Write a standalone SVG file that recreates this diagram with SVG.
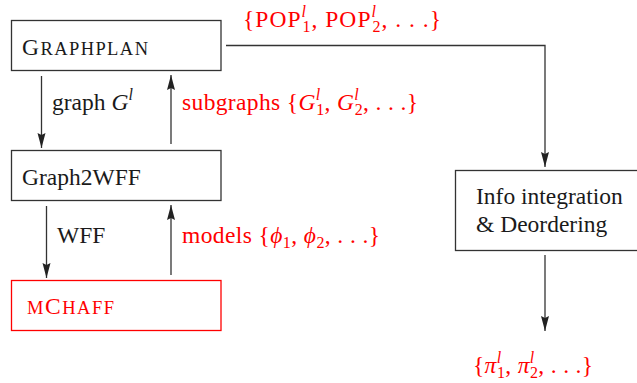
<svg xmlns="http://www.w3.org/2000/svg" width="637" height="383" viewBox="0 0 637 383">
  <style>
    text { font-family: "Liberation Serif", "Times New Roman", serif; font-size: 23.5px; fill: #1a1a1a; }
    .red { fill: #ff0000; }
    .it { font-style: italic; }
    .sc { font-size: 18.5px; }
    .scr { font-size: 16px; }
    .box { fill: #ffffff; stroke: #333333; stroke-width: 1.3; }
    .box.alert { stroke: #ff0000; }
    .wire { fill: none; stroke: #333333; stroke-width: 1.3; }
  </style>
  <defs>
    <marker id="head" markerUnits="userSpaceOnUse" markerWidth="16" markerHeight="10" refX="15" refY="4" orient="auto">
      <path d="M0,0 L15,4 L0,8 L2,4 z" fill="#222222"/>
    </marker>
  </defs>

  <!-- connectors and their labels -->
  <g id="connectors">
    <line class="wire" x1="41.5" y1="76" x2="41.5" y2="148" marker-end="url(#head)"/>
    <line class="wire" x1="171" y1="144" x2="171" y2="75" marker-end="url(#head)"/>
    <line class="wire" x1="46.5" y1="206" x2="46.5" y2="278" marker-end="url(#head)"/>
    <line class="wire" x1="171" y1="275" x2="171" y2="205" marker-end="url(#head)"/>
    <polyline class="wire" points="226,45.5 545,45.5 545,167" marker-end="url(#head)"/>
    <line class="wire" x1="545" y1="255" x2="545" y2="331" marker-end="url(#head)"/>

    <text x="52" y="110">graph <tspan class="it">G</tspan><tspan class="it scr" dy="-10">l</tspan></text>
    <text class="red" x="182" y="110" textLength="236" lengthAdjust="spacing">subgraphs {<tspan class="it">G</tspan><tspan class="it scr" dy="-10">l</tspan><tspan class="scr" dx="-4.5" dy="15">1</tspan><tspan dy="-5">, </tspan><tspan class="it">G</tspan><tspan class="it scr" dy="-10">l</tspan><tspan class="scr" dx="-4.5" dy="15">2</tspan><tspan dy="-5">, . . .}</tspan></text>
    <text x="57" y="243">WFF</text>
    <text class="red" x="182" y="243" textLength="198" lengthAdjust="spacing">models {<tspan class="it">ϕ</tspan><tspan class="scr" dy="5">1</tspan><tspan dy="-5">, </tspan><tspan class="it">ϕ</tspan><tspan class="scr" dy="5">2</tspan><tspan dy="-5">, . . .}</tspan></text>
    <text class="red" x="243" y="27" textLength="198" lengthAdjust="spacing">{POP<tspan class="it scr" dy="-10">l</tspan><tspan class="scr" dx="-4.5" dy="15">1</tspan><tspan dy="-5">, POP</tspan><tspan class="it scr" dy="-10">l</tspan><tspan class="scr" dx="-4.5" dy="15">2</tspan><tspan dy="-5">, . . .}</tspan></text>
    <text class="red" x="473" y="373" textLength="120" lengthAdjust="spacing">{<tspan class="it">π</tspan><tspan class="it scr" dy="-10">l</tspan><tspan class="scr" dx="-4.5" dy="15">1</tspan><tspan dy="-5">, </tspan><tspan class="it">π</tspan><tspan class="it scr" dy="-10">l</tspan><tspan class="scr" dx="-4.5" dy="15">2</tspan><tspan dy="-5">, . . .}</tspan></text>
  </g>

  <g id="graphplan">
    <rect class="box" x="11.5" y="20.5" width="209.5" height="50"/>
    <text x="22" y="55" textLength="126" lengthAdjust="spacing">G<tspan class="sc">RAPHPLAN</tspan></text>
  </g>

  <g id="graph2wff">
    <rect class="box" x="11.5" y="150.5" width="209.5" height="50"/>
    <text x="22" y="185">Graph2WFF</text>
  </g>

  <g id="mchaff">
    <rect class="box alert" x="11.5" y="280.5" width="209.5" height="50"/>
    <text class="red" x="27" y="314" textLength="87" lengthAdjust="spacing"><tspan class="sc">M</tspan>C<tspan class="sc">HAFF</tspan></text>
  </g>

  <g id="info-integration">
    <rect class="box" x="455.5" y="170.5" width="190" height="80"/>
    <text x="476" y="204">Info integration</text>
    <text x="476" y="232">&amp; Deordering</text>
  </g>
</svg>
